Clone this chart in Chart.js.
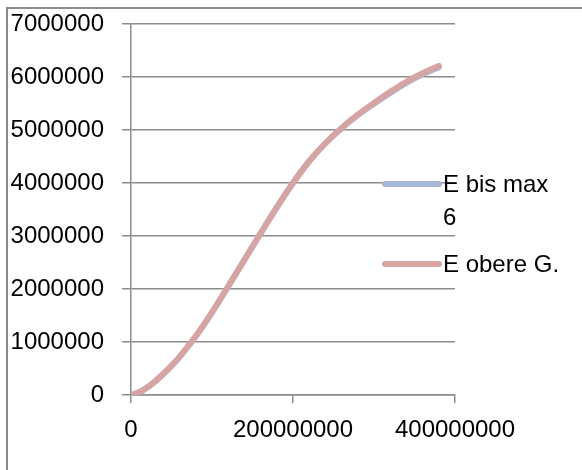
<!DOCTYPE html>
<html>
<head>
<meta charset="utf-8">
<script src="https://cdn.jsdelivr.net/npm/chart.js@4/dist/chart.umd.min.js"></script>
<style>
html,body{margin:0;padding:0;background:#fff;}
#wrap{width:582px;height:470px;position:relative;}
</style>
</head>
<body>
<div id="wrap"><canvas id="c" width="582" height="470"></canvas></div>
<script>
const seriesNames = ["E bis max 6", "E obere G."];
const xValues = [0, 10000000, 20000000, 30000000, 40000000, 50000000, 60000000, 70000000, 80000000, 100000000, 120000000, 140000000, 160000000, 180000000, 200000000, 220000000, 240000000, 260000000, 280000000, 300000000, 320000000, 340000000, 360000000, 380000000];
const eBisMax6 = [0, 50000, 140000, 260000, 400000, 550000, 720000, 910000, 1110000, 1560000, 2050000, 2550000, 3050000, 3540000, 4000000, 4410000, 4750000, 5035000, 5280000, 5495000, 5700000, 5890000, 6050000, 6185000];
const eObereG = [0, 50000, 140000, 260000, 400000, 550000, 720000, 910000, 1110000, 1560000, 2050000, 2550000, 3050000, 3540000, 4000000, 4410000, 4750000, 5040000, 5290000, 5510000, 5720000, 5910000, 6070000, 6210000];
const xTicks = [0, 200000000, 400000000];
const yTicks = [0, 1000000, 2000000, 3000000, 4000000, 5000000, 6000000, 7000000];
const colors = ["#a7b9d9", "#d6a5a3"];

const FONT = "Liberation Sans";
const FS = 24;

function toPoints(xs, ys){ return xs.map((x,i)=>({x:x, y:ys[i]})); }

const frame = {
  id:'frame',
  afterDraw(chart){
    const ctx = chart.ctx;
    ctx.save();
    ctx.strokeStyle = '#8c8c8c';
    ctx.lineWidth = 2;
    ctx.beginPath();
    ctx.moveTo(7, 470); ctx.lineTo(7, 8); ctx.lineTo(582, 8);
    ctx.stroke();
    // legend
    ctx.font = FS + 'px "' + FONT + '"';
    ctx.textBaseline = 'middle';
    ctx.textAlign = 'left';
    ctx.fillStyle = '#000';
    let y = 184;
    const maxW = 118;
    chart.data.datasets.forEach(ds=>{
      const words = ds.label.split(' ');
      const lines = [];
      let cur = '';
      words.forEach(w=>{
        const t = cur ? cur + ' ' + w : w;
        if (ctx.measureText(t).width > maxW && cur){ lines.push(cur); cur = w; } else cur = t;
      });
      if (cur) lines.push(cur);
      ctx.strokeStyle = ds.borderColor;
      ctx.lineWidth = 6;
      ctx.lineCap = 'round';
      ctx.beginPath();
      ctx.moveTo(385, y); ctx.lineTo(439, y);
      ctx.stroke();
      lines.forEach((l,i)=>{ ctx.fillText(l, 443, y + i*33 + 1); });
      y += (lines.length)*33 + 14;
    });
    ctx.restore();
  }
};

new Chart(document.getElementById('c'), {
  type:'scatter',
  data:{
    datasets:[
      {label:seriesNames[0], data:toPoints(xValues, eBisMax6), showLine:true, borderColor:colors[0], backgroundColor:colors[0], borderWidth:6, pointRadius:0, cubicInterpolationMode:'monotone', order:1, borderCapStyle:'round'},
      {label:seriesNames[1], data:toPoints(xValues, eObereG), showLine:true, borderColor:colors[1], backgroundColor:colors[1], borderWidth:6, pointRadius:0, cubicInterpolationMode:'monotone', order:0, borderCapStyle:'round'}
    ]
  },
  options:{
    responsive:false,
    animation:false,
    devicePixelRatio:1,
    layout:{padding:{left:0, right:127, top:24, bottom:0}},
    plugins:{legend:{display:false}, tooltip:{enabled:false}},
    scales:{
      x:{
        type:'linear', min:0, max:400000000,
        afterBuildTicks(s){ s.ticks = xTicks.map(v=>({value:v})); },
        afterFit(s){ s.height = 75; s.paddingLeft = 0; s.paddingRight = 0; },
        grid:{drawOnChartArea:false, drawTicks:true, tickLength:8, color:'#8c8c8c', lineWidth:1.5},
        border:{display:true, color:'#8c8c8c', width:1.5},
        ticks:{color:'#000', font:{family:FONT, size:FS}, padding:13, maxRotation:0, autoSkip:false, callback:v=>String(v)}
      },
      y:{
        type:'linear', min:0, max:7000000,
        afterBuildTicks(s){ s.ticks = yTicks.map(v=>({value:v})); },
        afterFit(s){ s.width = 131; s.paddingTop = 0; s.paddingBottom = 0; },
        grid:{drawOnChartArea:true, drawTicks:true, tickLength:9, color:'#8c8c8c', lineWidth:1.5},
        border:{display:true, color:'#8c8c8c', width:1.5},
        ticks:{color:'#000', font:{family:FONT, size:FS}, padding:18, autoSkip:false, callback:v=>String(v)}
      }
    }
  },
  plugins:[frame]
});
</script>
</body>
</html>
